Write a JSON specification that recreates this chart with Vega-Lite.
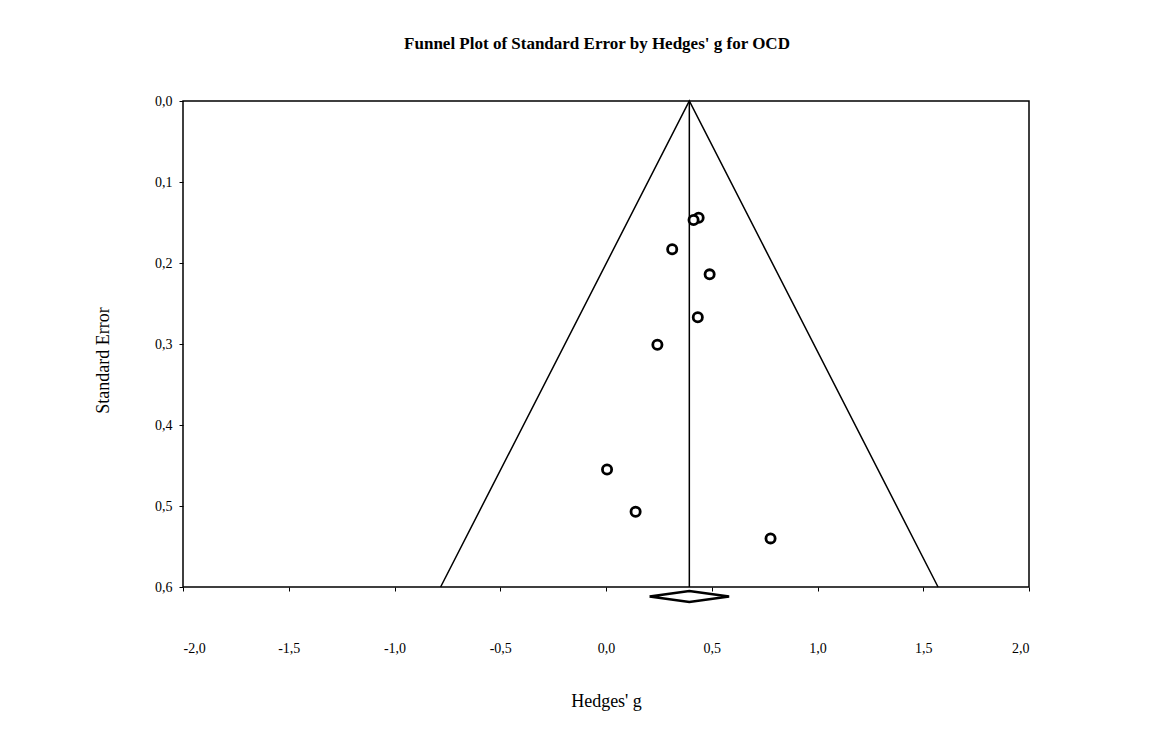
{
  "$schema": "https://vega.github.io/schema/vega-lite/v6.json",
  "width": 846,
  "height": 486,
  "autosize": "none",
  "padding": {"left": 183, "top": 101, "right": 147, "bottom": 164},
  "background": "white",
  "config": {
    "font": "Liberation Serif",
    "view": {"stroke": "black", "strokeWidth": 1.5},
    "axis": {
      "grid": false,
      "domain": false,
      "tickColor": "black",
      "tickSize": 4,
      "tickWidth": 1,
      "labelColor": "black",
      "labelFont": "Liberation Serif",
      "labelFontSize": 14,
      "titleColor": "black",
      "titleFont": "Liberation Serif",
      "titleFontSize": 18,
      "titleFontWeight": "normal"
    }
  },
  "title": {
    "text": "Funnel Plot of Standard Error by Hedges' g for OCD",
    "font": "Liberation Serif",
    "fontSize": 17,
    "fontWeight": "bold",
    "color": "black",
    "anchor": "middle",
    "dx": -9,
    "offset": 41
  },
  "datasets": {
    "funnel": [
      {"g": -0.782, "se": 0.6, "k": 0},
      {"g": 0.394, "se": 0.0, "k": 1},
      {"g": 1.570, "se": 0.6, "k": 2}
    ],
    "pooled": [
      {"g": 0.394, "se_top": 0.0, "se_bottom": 0.6}
    ],
    "studies": [
      {"g": 0.438, "se": 0.144},
      {"g": 0.414, "se": 0.147},
      {"g": 0.313, "se": 0.183},
      {"g": 0.490, "se": 0.214},
      {"g": 0.434, "se": 0.267},
      {"g": 0.243, "se": 0.301},
      {"g": 0.005, "se": 0.455},
      {"g": 0.140, "se": 0.507},
      {"g": 0.778, "se": 0.540}
    ],
    "diamond": [
      {"g": 0.206, "se": 0.6117, "k": 0},
      {"g": 0.394, "se": 0.6050, "k": 1},
      {"g": 0.582, "se": 0.6117, "k": 2},
      {"g": 0.394, "se": 0.6185, "k": 3},
      {"g": 0.206, "se": 0.6117, "k": 4}
    ]
  },
  "layer": [
    {
      "data": {"name": "funnel"},
      "mark": {"type": "line", "color": "black", "strokeWidth": 1.5},
      "encoding": {
        "x": {
          "field": "g",
          "type": "quantitative",
          "scale": {"domain": [-2, 2], "nice": false, "zero": false},
          "axis": {
            "values": [-2, -1.5, -1, -0.5, 0, 0.5, 1, 1.5, 2],
            "labelExpr": "replace(replace(format(datum.value, '.1f'), '.', ','), '\u2212', '-')",
            "labelPadding": 50,
            "title": "Hedges' g",
            "titlePadding": 37
          }
        },
        "y": {
          "field": "se",
          "type": "quantitative",
          "scale": {"domain": [0, 0.6], "nice": false, "zero": false, "reverse": true},
          "axis": {
            "values": [0, 0.1, 0.2, 0.3, 0.4, 0.5, 0.6],
            "labelExpr": "replace(format(datum.value, '.1f'), '.', ',')",
            "labelPadding": 7,
            "title": "Standard Error",
            "titlePadding": 42,
            "titleY": 259
          }
        },
        "order": {"field": "k", "type": "quantitative"}
      }
    },
    {
      "data": {"name": "pooled"},
      "mark": {"type": "rule", "color": "black", "strokeWidth": 1.5},
      "encoding": {
        "x": {"field": "g", "type": "quantitative"},
        "y": {"field": "se_top", "type": "quantitative"},
        "y2": {"field": "se_bottom"}
      }
    },
    {
      "data": {"name": "diamond"},
      "mark": {"type": "line", "color": "black", "strokeWidth": 2.6, "clip": false},
      "encoding": {
        "x": {"field": "g", "type": "quantitative"},
        "y": {"field": "se", "type": "quantitative"},
        "order": {"field": "k", "type": "quantitative"}
      }
    },
    {
      "data": {"name": "studies"},
      "mark": {"type": "point", "shape": "circle", "filled": false, "fill": "white", "fillOpacity": 1, "stroke": "black", "strokeWidth": 2.8, "opacity": 1, "size": 85},
      "encoding": {
        "x": {"field": "g", "type": "quantitative"},
        "y": {"field": "se", "type": "quantitative"}
      }
    }
  ]
}
